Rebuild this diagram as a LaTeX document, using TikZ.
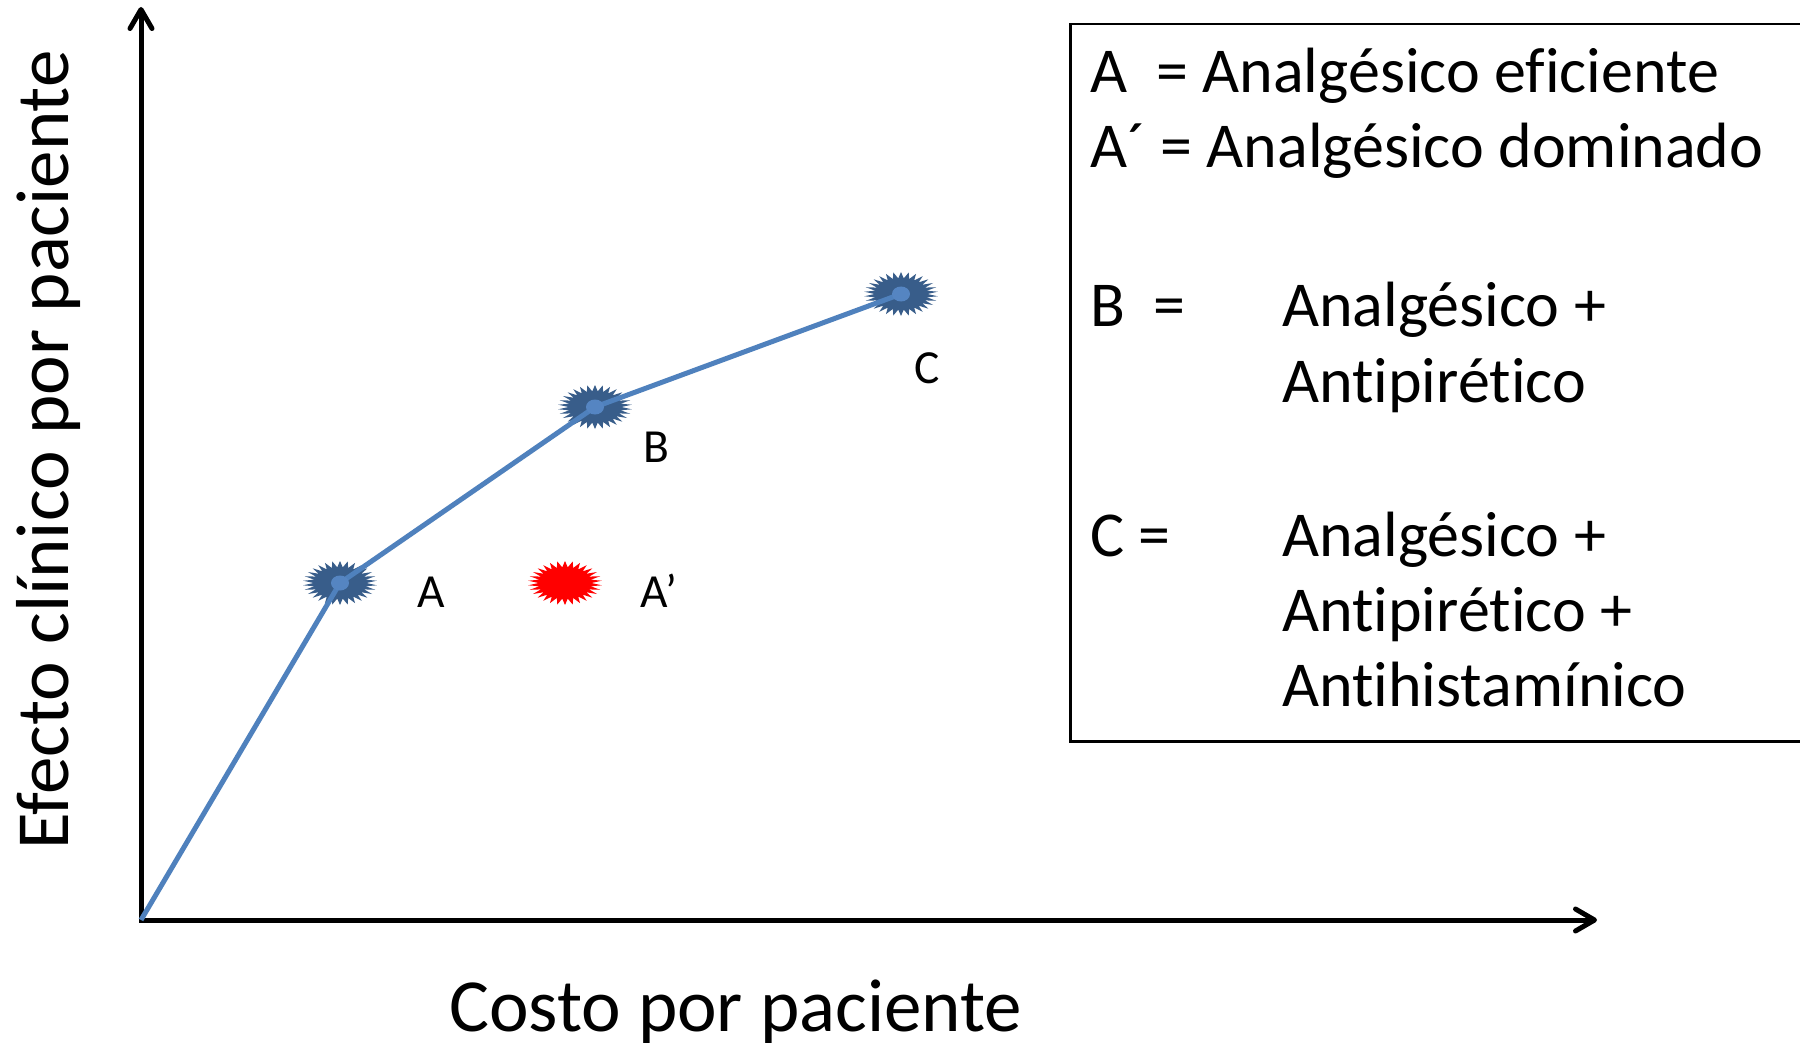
\documentclass[tikz,border=0pt]{standalone}
\usepackage{fontspec}
\setmainfont{Carlito}[Ligatures=NoCommon]
\usetikzlibrary{arrows.meta,shapes.geometric}
\definecolor{lineblue}{HTML}{4F81BD}
\definecolor{stardark}{HTML}{385D8A}
\definecolor{stardot}{HTML}{5585C2}
\begin{document}
\begin{tikzpicture}[x=1pt,y=-1pt,
  axisline/.style={line width=5pt, -{Straight Barb[length=19pt,width=22pt,round]}},
  curveline/.style={lineblue, line width=5pt},
  burst/.style={star, star points=30, star point ratio=1.4, minimum size=44pt,
    inner sep=0pt, draw=none, xscale=1.68, transform shape},
  ptlabel/.style={anchor=base west, inner sep=0pt, font=\fontsize{47.5}{57}\selectfont},
  lg/.style={anchor=base west, inner sep=0pt, font=\fontsize{64}{77}\selectfont},
  axlabel/.style={anchor=base west, inner sep=0pt, font=\fontsize{75}{90}\selectfont}]
\useasboundingbox (0,0) rectangle (1800,1043);
\fill[white] (0,0) rectangle (1800,1043);

% axes
\coordinate (O) at (141,920);
\coordinate (ytip) at (141,7);
\coordinate (xtip) at (1597,920);
\draw[axisline] (O) -- (ytip);
\draw[axisline, shorten <=-2.5pt] (O) -- (xtip);

% points
\node[burst, fill=stardark] (A) at (340,583) {};
\node[burst, fill=stardark] (B) at (595,407) {};
\node[burst, fill=stardark] (C) at (901,294) {};
\node[burst, fill=red] (Ap) at (565,583) {};

\draw[curveline] (O) -- (A.center) -- (B.center) -- (C.center);

\foreach \p in {A,B,C}
  \fill[stardot] (\p.center) ellipse [x radius=9pt, y radius=7.5pt];

% point labels
\node[ptlabel] (lA) at (417,607) {A};
\node[ptlabel] (lAp) at (640,607) {A’};
\node[ptlabel] (lB) at (643,462) {B};
\node[ptlabel] (lC) at (914,383) {C};

% axis labels
\node[axlabel] (xlab) at (449,1031) {Costo por paciente};
\node[axlabel, rotate=90] (ylab) at (68,850) {Efecto clínico por paciente};

% legend
\node[draw, line width=2.5pt, anchor=north west, minimum width=780pt,
  minimum height=717pt, inner sep=0pt] (legend) at (1069,23) {};
\node[lg] (l1) at (1090,93) {A\ \ = Analgésico eficiente};
\node[lg] (l2) at (1090,168) {A´ = Analgésico dominado};
\node[lg] (l3a) at (1090,326) {B\ \ =};
\node[lg] (l3b) at (1282,326) {Analgésico +};
\node[lg] (l4) at (1282,402) {Antipirético};
\node[lg] (l5a) at (1090,556) {C =};
\node[lg] (l5b) at (1282,556) {Analgésico +};
\node[lg] (l6) at (1282,631) {Antipirético +};
\node[lg] (l7) at (1282,706) {Antihistamínico};
\end{tikzpicture}
\end{document}
